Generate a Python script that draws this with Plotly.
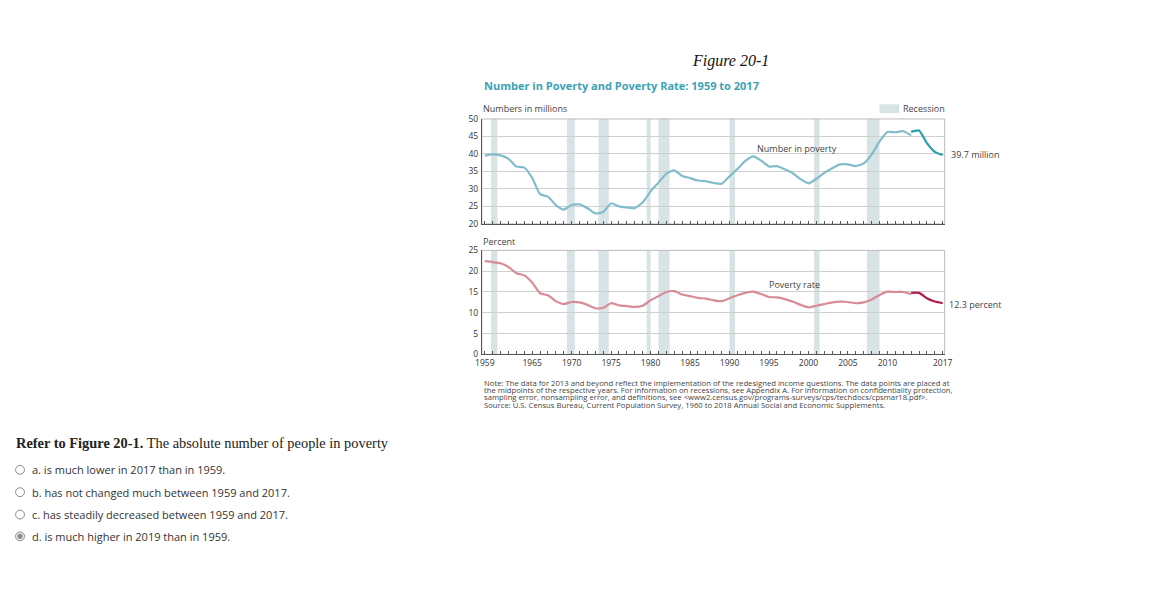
import plotly.graph_objects as go

# ---------------- data ----------------
years_old = list(range(1959, 2014))
years_new = list(range(2013, 2018))

number_old = [39.5, 39.9, 39.6, 38.6, 36.4, 36.1, 33.2, 28.5, 27.8, 25.4, 24.1, 25.4, 25.6, 24.5,
              23.0, 23.4, 25.9, 25.0, 24.7, 24.5, 26.1, 29.3, 31.8, 34.4, 35.3, 33.7, 33.1, 32.4,
              32.2, 31.7, 31.5, 33.6, 35.7, 38.0, 39.3, 38.1, 36.4, 36.5, 35.6, 34.5, 32.8, 31.6,
              32.9, 34.6, 35.9, 37.0, 37.0, 36.5, 37.3, 39.8, 43.6, 46.3, 46.2, 46.5, 45.3]
number_new = [46.3, 46.7, 43.1, 40.6, 39.7]

rate_old = [22.4, 22.2, 21.9, 21.0, 19.5, 19.0, 17.3, 14.7, 14.2, 12.8, 12.1, 12.6, 12.5, 11.9,
            11.1, 11.2, 12.3, 11.8, 11.6, 11.4, 11.7, 13.0, 14.0, 15.0, 15.2, 14.4, 14.0, 13.6,
            13.4, 13.0, 12.8, 13.5, 14.2, 14.8, 15.1, 14.5, 13.8, 13.7, 13.3, 12.7, 11.9, 11.3,
            11.7, 12.1, 12.5, 12.7, 12.6, 12.3, 12.5, 13.2, 14.3, 15.1, 15.0, 15.0, 14.5]
rate_new = [14.8, 14.8, 13.5, 12.7, 12.3]

recession_start = [1960.3, 1969.9, 1973.9, 1980.0, 1981.5, 1990.5, 2001.2, 2007.9]
recession_end = [1961.1, 1970.9, 1975.2, 1980.5, 1982.9, 1991.2, 2001.9, 2009.5]

tick_years = list(range(1959, 2018))
labeled_years = [1959, 1965, 1970, 1975, 1980, 1985, 1990, 1995, 2000, 2005, 2010, 2017]

options = ["a. is much lower in 2017 than in 1959.",
           "b. has not changed much between 1959 and 2017.",
           "c. has steadily decreased between 1959 and 2017.",
           "d. is much higher in 2019 than in 1959."]
selected_option = 3

# ---------------- helpers ----------------
# the page body keeps its default 8px margin, so the figure is 16px smaller than the window
OFF = 8
W, H = 1163 - 2 * OFF, 593 - 2 * OFF
def px(x):
    return (x - OFF) / W
def py(y):
    return 1 - (y - OFF) / H

MID = 0.5  # data points are placed at the midpoints of the years
SANS = "Open Sans"
LIGHT_TEAL = "#80bccb"
DARK_TEAL = "#2a9db0"
LIGHT_ROSE = "#d98b96"
DARK_ROSE = "#ad1f4e"
REC = "#d7e3e5"
GRID = "#cfcfcf"
AXIS = "#555555"

fig = go.Figure()

fig.add_trace(go.Scatter(x=[y + MID for y in years_old], y=number_old, mode="lines",
                         line=dict(color=LIGHT_TEAL, width=2.2, shape="spline", smoothing=0.5),
                         xaxis="x", yaxis="y", hoverinfo="skip"))
fig.add_trace(go.Scatter(x=[y + MID for y in years_new], y=number_new, mode="lines",
                         line=dict(color=DARK_TEAL, width=2.2, shape="spline", smoothing=0.5),
                         xaxis="x", yaxis="y", hoverinfo="skip"))
fig.add_trace(go.Scatter(x=[y + MID for y in years_old], y=rate_old, mode="lines",
                         line=dict(color=LIGHT_ROSE, width=2.2, shape="spline", smoothing=0.5),
                         xaxis="x2", yaxis="y2", hoverinfo="skip"))
fig.add_trace(go.Scatter(x=[y + MID for y in years_new], y=rate_new, mode="lines",
                         line=dict(color=DARK_ROSE, width=2.2, shape="spline", smoothing=0.5),
                         xaxis="x2", yaxis="y2", hoverinfo="skip"))

xr = [1959.125, 2017.75]
tickvals = [y + MID for y in tick_years]
ticktext = [str(y) if y in labeled_years else "" for y in tick_years]

xcommon = dict(range=xr, domain=[px(481), px(950)], showgrid=False, zeroline=False,
               showline=True, linecolor=AXIS, linewidth=1, ticks="inside", ticklen=3,
               tickcolor=AXIS, tickwidth=1, tickvals=tickvals, ticktext=ticktext,
               fixedrange=True)
ycommon = dict(showgrid=True, gridcolor=GRID, gridwidth=1, zeroline=False, showline=True,
               linecolor=AXIS, linewidth=1, ticks="", dtick=5, ticklabelstandoff=1,
               tickfont=dict(family=SANS, size=8.5, color="#333"), fixedrange=True)

shapes = []
for xref, yref in [("x", "y"), ("x2", "y2")]:
    for s, e in zip(recession_start, recession_end):
        shapes.append(dict(type="rect", xref=xref, yref=yref + " domain", x0=s, x1=e, y0=0, y1=1,
                           fillcolor=REC, line=dict(width=0), layer="below"))
    shapes.append(dict(type="rect", xref=xref + " domain", yref=yref + " domain", x0=0, x1=1,
                       y0=0, y1=1, line=dict(color="#bbbbbb", width=1), layer="below"))

# legend box
shapes.append(dict(type="rect", xref="paper", yref="paper", x0=px(884), x1=px(904),
                   y0=py(109), y1=py(100), fillcolor=REC, line=dict(width=0)))

# radio buttons
opt_y = [472.7, 495.5, 518.3, 540.5]
r = 4.5
cx = 8.6 + r
for i, yy in enumerate(opt_y):
    shapes.append(dict(type="circle", xref="paper", yref="paper", x0=px(cx - r), x1=px(cx + r),
                       y0=py(yy + r), y1=py(yy - r), line=dict(color="#8a8a8a", width=1),
                       fillcolor="white" if i != selected_option else "#ececec"))
    if i == selected_option:
        shapes.append(dict(type="circle", xref="paper", yref="paper", x0=px(cx - 2.6),
                           x1=px(cx + 2.6), y0=py(yy + 2.6), y1=py(yy - 2.6),
                           line=dict(width=0), fillcolor="#8c8c8c"))

ann = []
def text(x, y, t, size, color="#333", family=SANS, xanchor="left", **kw):
    ann.append(dict(x=px(x), y=py(y), xref="paper", yref="paper", text=t, showarrow=False,
                    xanchor=xanchor, yanchor="middle", align="left",
                    font=dict(family=family, size=size, color=color), **kw))

text(733, 56, "<i>Figure 20-1</i>", 16, "#111", "Liberation Serif", xanchor="center")
text(481, 80.5, "<b>Number in Poverty and Poverty Rate: 1959 to 2017</b>", 11, "#3aa3b7")
text(480, 104, "Numbers in millions", 9, "#444")
text(906, 104, "Recession", 9, "#444")
text(480, 240, "Percent", 9, "#444")
text(758, 145, "Number in poverty", 9, "#444")
text(954, 151.5, "39.7 million", 9, "#444")
text(770, 284, "Poverty rate", 9, "#444")
text(952, 304, "12.3 percent", 9, "#444")

notes = ["Note: The data for 2013 and beyond reflect the implementation of the redesigned income questions. The data points are placed at",
         "the midpoints of the respective years. For information on recessions, see Appendix A. For information on confidentiality protection,",
         "sampling error, nonsampling error, and definitions, see &lt;www2.census.gov/programs-surveys/cps/techdocs/cpsmar18.pdf&gt;."]
for i, n in enumerate(notes):
    text(481, 384.3 + i * 7.2, n, 7.7, "#444")
text(481, 406.9, "Source: U.S. Census Bureau, Current Population Survey, 1960 to 2018 Annual Social and Economic Supplements.", 7.7, "#444")

text(7, 445, "<b>Refer to Figure 20-1.</b> The absolute number of people in poverty", 14.4,
     "#222", "Liberation Serif")
for o, yy in zip(options, opt_y):
    text(23, yy, o, 11, "#333")

fig.update_layout(
    width=W, height=H, margin=dict(l=0, r=0, t=0, b=0), autosize=False,
    paper_bgcolor="white", plot_bgcolor="white", showlegend=False,
    xaxis=dict(**xcommon, anchor="y", showticklabels=False),
    yaxis=dict(**ycommon, range=[20, 50], domain=[py(222), py(115)], anchor="x"),
    xaxis2=dict(**xcommon, anchor="y2", tickfont=dict(family=SANS, size=8.5, color="#333"),
                tickangle=0, ticklabelstandoff=0),
    yaxis2=dict(**ycommon, range=[0, 25], domain=[py(355), py(249)], anchor="x2"),
    shapes=shapes, annotations=ann,
)

fig.write_html("out.html", config={"displayModeBar": False})
